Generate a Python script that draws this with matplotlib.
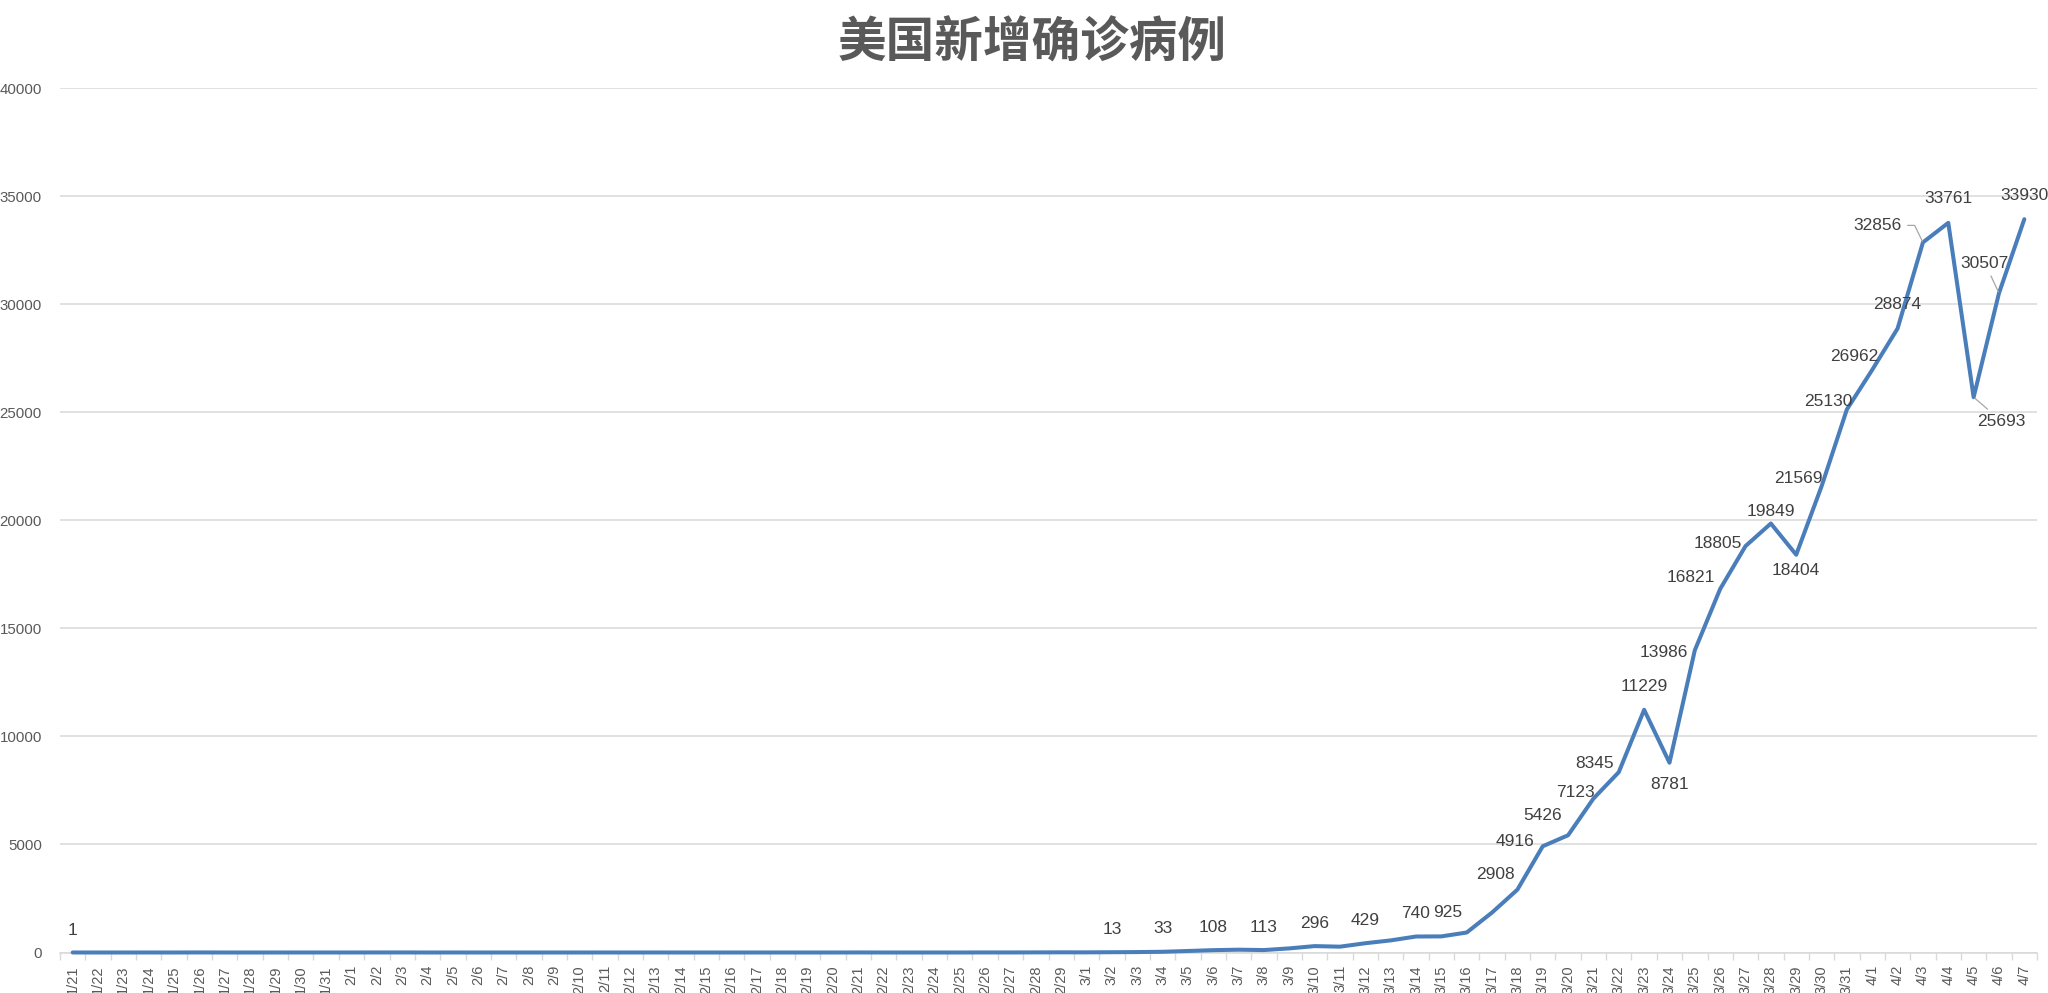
import matplotlib
matplotlib.use("Agg")
from matplotlib import pyplot as plt
import numpy as np

plt.rcParams["font.family"] = ["Liberation Sans", "DejaVu Sans"]

# dates 1/21 .. 4/7
dates = (
    [f"1/{d}" for d in range(21, 32)]
    + [f"2/{d}" for d in range(1, 30)]
    + [f"3/{d}" for d in range(1, 32)]
    + [f"4/{d}" for d in range(1, 8)]
)

jan_cases = [1, 0, 0, 1, 0, 3, 0, 0, 0, 1, 1]
feb_cases = [1, 2, 3, 0, 1, 0, 0, 0, 0, 0, 1, 1, 1, 0, 0, 0, 0, 0, 0, 0,
             2, 0, 0, 0, 0, 3, 2, 5, 8]
mar_cases = [6, 13, 20, 33, 70, 108, 130, 113, 190, 296, 270, 429, 560, 740, 745,
             925, 1850, 2908, 4916, 5426, 7123, 8345, 11229, 8781, 13986, 16821,
             18805, 19849, 18404, 21569, 25130]
apr_cases = [26962, 28874, 32856, 33761, 25693, 30507, 33930]
new_cases = jan_cases + feb_cases + mar_cases + apr_cases

# which points carry a data label, and the label offset (pixels) from the point
label_offsets = {
    0: (0, 22), 41: (0, 23), 43: (0, 23), 45: (0, 23), 47: (0, 23), 49: (0, 23),
    51: (0, 23), 53: (0, 23), 55: (-19, 20), 57: (-22, 15), 58: (-28, 5),
    59: (-25, 20), 60: (-18, 6), 61: (-24, 9), 62: (0, 23), 63: (0, -22),
    64: (-31, -2), 65: (-29, 11), 66: (-28, 3), 67: (0, 12), 68: (0, -16),
    69: (-23, 8), 70: (-19, 8), 71: (-18, 13), 72: (0, 24), 73: (-45, 17),
    74: (0, 24), 75: (28, -24), 76: (-14, 30), 77: (0, 24),
}
# leader lines: point index -> connection style
leaders = {
    73: "angle,angleA=0,angleB=116,rad=0",
    75: "arc3",
    76: "arc3",
}

grey_text = "#595959"
x = np.arange(len(dates))

fig = plt.figure(figsize=(20.48, 9.93), dpi=100)
ax = fig.add_axes([60 / 2048, 1 - 952.5 / 993, 1977 / 2048, 864.5 / 993])

ax.plot(x, new_cases, color="#4a7ebb", lw=2.9, solid_joinstyle="round",
        solid_capstyle="round", zorder=3, clip_on=False)

for i, (dx, dy) in label_offsets.items():
    arrow = None
    if i in leaders:
        arrow = dict(arrowstyle="-", color="#a6a6a6", lw=0.9, shrinkA=2, shrinkB=1,
                     connectionstyle=leaders[i])
    ax.annotate(str(new_cases[i]), (x[i], new_cases[i]), xytext=(dx, dy),
                textcoords="offset pixels", ha="center", va="center",
                fontsize=12.5, color="#404040", arrowprops=arrow,
                annotation_clip=False, zorder=4)

ax.set_xlim(-0.5, len(dates) - 0.5)
ax.set_ylim(0, 40000)
ax.set_yticks(np.arange(0, 40001, 5000))
ax.set_xticks(x)
ax.set_xticklabels(dates, rotation=90)
ax.set_xticks(np.arange(-0.5, len(dates), 1), minor=True)

ax.tick_params(axis="x", which="major", length=0, pad=9, labelsize=10.5,
               labelcolor=grey_text)
ax.tick_params(axis="x", which="minor", length=5, color="#d9d9d9", width=1)
ax.tick_params(axis="y", length=0, pad=13, labelsize=10.8, labelcolor=grey_text)

ax.grid(axis="y", color="#d9d9d9", lw=1.1)
ax.set_axisbelow(True)
for side in ["top", "right", "left"]:
    ax.spines[side].set_visible(False)
ax.spines["bottom"].set_color("#d9d9d9")
ax.spines["bottom"].set_linewidth(1.1)

fig.text(1032 / 2048, 1 - 43 / 993, "美国新增确诊病例", ha="center", va="center",
         fontsize=35, fontweight="bold", color=grey_text,
         family=["Noto Sans CJK SC", "DejaVu Sans"])

fig.savefig("out.png", dpi=100, facecolor="white")
